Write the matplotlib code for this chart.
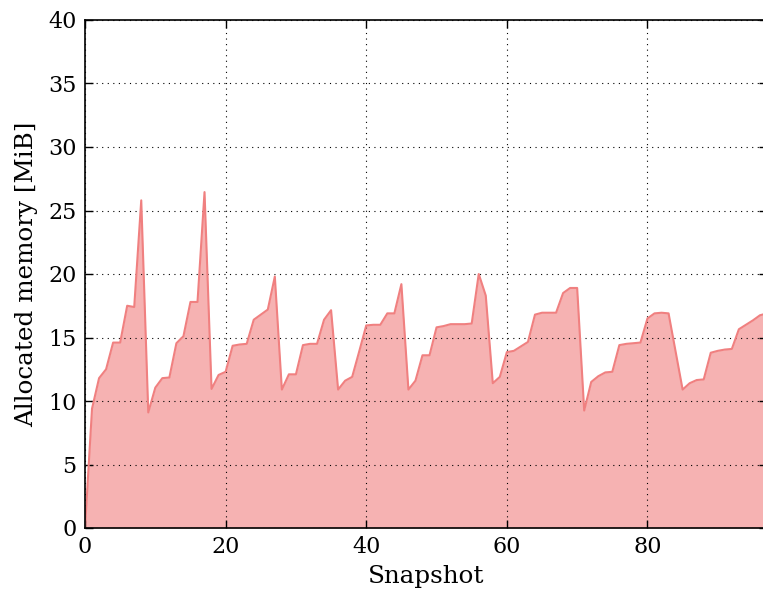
import matplotlib
matplotlib.use("Agg")
import matplotlib.pyplot as plt
import numpy as np

# allocated memory per snapshot, MiB
memory = [
    0.0, 9.4, 11.8, 12.5, 14.6, 14.6, 17.5, 17.4, 25.8, 9.1,
    11.05, 11.8, 11.85, 14.55, 15.1, 17.8, 17.8, 26.45, 10.95, 12.05,
    12.3, 14.35, 14.45, 14.5, 16.4, 16.8, 17.2, 19.8, 10.9, 12.1,
    12.1, 14.4, 14.5, 14.5, 16.4, 17.15, 10.9, 11.6, 11.9, 13.9,
    15.95, 16.0, 16.0, 16.9, 16.9, 19.2, 10.9, 11.6, 13.6, 13.6,
    15.8, 15.9, 16.05, 16.05, 16.05, 16.1, 20.0, 18.3, 11.4, 11.9,
    13.85, 13.95, 14.3, 14.65, 16.8, 16.95, 16.95, 16.95, 18.5, 18.9,
    18.9, 9.25, 11.5, 11.95, 12.25, 12.3, 14.4, 14.5, 14.55, 14.6,
    16.5, 16.9, 16.95, 16.9, 13.9, 10.9, 11.4, 11.65, 11.7, 13.8,
    13.95, 14.05, 14.1, 15.65, 16.0, 16.35, 16.75, 16.9,
]
snapshots = np.arange(len(memory))

plt.rcParams["font.family"] = "DejaVu Serif"
plt.rcParams["font.size"] = 16

fig = plt.figure(figsize=(7.63, 5.92), dpi=100)
# right edge of the axes runs just past the figure, like the original crop
ax = fig.add_axes([85 / 763, 64 / 592, 682 / 763, 508 / 592])

ax.fill_between(snapshots, memory, color="lightcoral", alpha=0.6, linewidth=0)
ax.plot(snapshots, memory, color="lightcoral", linewidth=1.5)

ax.set_xlim(0, 97)
ax.set_ylim(0, 40)
ax.set_xticks([0, 20, 40, 60, 80])
ax.set_yticks(np.arange(0, 41, 5))
ax.tick_params(direction="in", top=True, right=True, length=6, width=1, pad=6)
ax.grid(True, color="black", linestyle=(0, (1, 4)), linewidth=0.8)
for s in ax.spines.values():
    s.set_linewidth(1.2)

ax.set_xlabel("Snapshot", fontsize=17.7, labelpad=5)
ax.set_ylabel("Allocated memory [MiB]", fontsize=17.7, labelpad=7)

fig.savefig("out.png", dpi=100)
